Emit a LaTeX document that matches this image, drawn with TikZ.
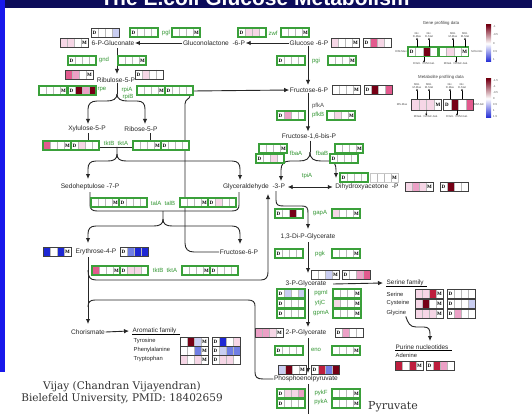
\documentclass[tikz,border=0pt]{standalone}
\usepackage{fontspec}
\setmainfont{Liberation Sans}
\newfontfamily\serifb{Liberation Serif}
\newfontfamily\dejaserif{DejaVu Serif}
\usetikzlibrary{arrows.meta,calc}

\definecolor{wh}{RGB}{255,255,255}
\definecolor{pL}{RGB}{246,214,230}
\definecolor{pM}{RGB}{236,160,198}
\definecolor{pS}{RGB}{226,90,142}
\definecolor{rd}{RGB}{190,30,62}
\definecolor{dr}{RGB}{118,0,22}
\definecolor{bL}{RGB}{202,206,242}
\definecolor{bM}{RGB}{112,126,228}
\definecolor{bS}{RGB}{30,40,212}
\definecolor{frg}{RGB}{58,160,58}
\definecolor{gtxt}{RGB}{50,150,50}
\definecolor{navy}{RGB}{12,12,90}
\definecolor{strip}{RGB}{24,24,235}

\newcommand{\cellrow}[9][]{%
 \begin{scope}[shift={(#3,#4)},#1]
  \fill[#6] (0,0) rectangle (7,9);
  \fill[#7] (7,0) rectangle (14,9);
  \fill[#8] (14,0) rectangle (21,9);
  \fill[#9] (21,0) rectangle (28,9);
  \draw[cellsep] (7,0)--(7,9) (14,0)--(14,9) (21,0)--(21,9);
  \ifx D#5\node[lett] at (3.5,4.6) {D};\fi
  \ifx M#5\node[lett] at (24.5,4.6) {M};\fi
  \draw[#2] (0,0) rectangle (28,9);
 \end{scope}}

\tikzset{
 met/.style={font=\fontsize{6.6}{7}\selectfont, text=black!85, inner sep=0.5pt},
 gn/.style={font=\fontsize{6}{6}\selectfont, text=gtxt, inner sep=0.5pt},
 sm/.style={font=\fontsize{5.8}{6}\selectfont, text=black!85, inner sep=0.5pt, anchor=west},
 fam/.style={font=\fontsize{6.4}{7}\selectfont, text=black!85, inner sep=0.5pt, anchor=west},
 lett/.style={font=\serifb\bfseries\fontsize{5}{5}\selectfont, inner sep=0pt},
 cellsep/.style={draw=gray!55, line width=0.3pt},
 gf/.style={draw=frg, line width=1.1pt},
 bf/.style={draw=black!75, line width=0.9pt},
 lf/.style={draw=gray!45, line width=0.8pt},
 ln/.style={line width=0.9pt, draw=black!85},
 arr/.style={ln, -{Latex[length=5pt,width=4.5pt]}},
 darr/.style={ln, {Latex[length=5pt,width=4.5pt]}-{Latex[length=5pt,width=4.5pt]}},
 tiny/.style={font=\fontsize{2.8}{3}\selectfont, text=black!70, inner sep=0pt, align=center},
 larr/.style={line width=0.4pt, -{Latex[length=2pt,width=2pt]}},
 cred/.style={font=\dejaserif\fontsize{10.5}{11}\selectfont, text=black!80, inner sep=0pt}
}

\begin{document}
\begin{tikzpicture}[x=1pt,y=-1pt]
\useasboundingbox (0,0) rectangle (532,414);
\fill[white] (0,0) rectangle (532,414);

% frame
\begin{scope}
\clip (0,0) rectangle (532,8);
\fill[navy] (0,0) rectangle (532,8);
\node[anchor=base, text=white, font=\bfseries\fontsize{21}{21}\selectfont] (title) at (255,6) {The E.coli Glucose Metabolism};
\end{scope}
\fill[strip] (0,0) rectangle (5,372);

% ---------- metabolites ----------
\node[met] (g6pn) at (113,43) {6-P-Gluconate};
\node[met] (glcl) at (214,43) {Gluconolactone~~-6-P};
\node[met] (g6p) at (309,43) {Glucose -6-P};
\node[met] (f6p) at (309,90) {Fructose-6-P};
\node[met] (fbp) at (309,137) {Fructose-1,6-bis-P};
\node[met] (gap) at (254,187) {Glyceraldehyde~~-3-P};
\node[met] (dhap) at (367,187) {Dihydroxyacetone~~-P};
\node[met] (bpg) at (308,237) {1,3-Di-P-Glycerate};
\node[met] (pg3) at (306,284) {3-P-Glycerate};
\node[met] (pg2) at (306,333) {2-P-Glycerate};
\node[met] (pep) at (306,379) {Phosphoenolpyruvate};
\node[cred, font=\dejaserif\fontsize{11}{11}\selectfont] (pyr) at (393,407) {Pyruvate};
\node[met] (ru5p) at (116,80) {Ribulose-5-P};
\node[met] (xu5p) at (87,129) {Xylulose-5-P};
\node[met] (r5p) at (141,129) {Ribose-5-P};
\node[met] (s7p) at (90,187) {Sedoheptulose -7-P};
\node[met] (e4p) at (96,252) {Erythrose-4-P};
\node[met] (f6pb) at (239,252) {Fructose-6-P};
\node[met] (chor) at (88,332) {Chorismate};

\node[fam] (serfam) at (386,283) {Serine family};
\node[sm] (ser) at (386,294) {Serine};
\node[sm] (cys) at (386,303) {Cysteine};
\node[sm] (gly) at (386,313) {Glycine};
\node[fam] (pur) at (395,347) {Purine nucleotides};
\node[sm] (ade) at (395,355) {Adenine};
\node[fam] (arom) at (132,331) {Aromatic family};
\node[sm] (tyr) at (133,341) {Tyrosine};
\node[sm] (phe) at (133,350) {Phenylalanine};
\node[sm] (trp) at (133,359) {Tryptophan};
\draw[line width=0.5pt] (serfam.south west) -- ([xshift=3pt]serfam.south east);
\draw[line width=0.5pt] (pur.south west) -- ([xshift=3pt]pur.south east);
\draw[line width=0.5pt] (arom.south west) -- ([xshift=3pt]arom.south east);

% ---------- connectors ----------
\draw[arr] (glcl.west) -- (g6pn.east);
\draw[arr] (g6p.west) -- (glcl.east);
\draw[arr] ([xshift=-1pt]g6p.south) -- ([xshift=-1pt,yshift=2pt]f6p.north);
\draw[arr] ([xshift=-1pt]f6p.south) -- ([xshift=-1pt,yshift=2pt]fbp.north);
\coordinate (fk1) at (310,152);
\draw[ln] ([xshift=1pt]fbp.south) -- (fk1);
\draw[arr] (fk1) .. controls (310,159) and (306,161) .. (299,161) -- (290,161) .. controls (284,161) and (281,164) .. (281,170) -- (281,181);
\draw[arr] (fk1) .. controls (310,159) and (314,161) .. (321,161) -- (329,161) .. controls (334,161) and (336,164) .. (336,170) -- (336,178);
\draw[darr] ([xshift=2pt]gap.east) -- ([xshift=-2pt]dhap.west);
\coordinate (gs) at (276,191);
\draw[arr] (gs) -- (276,200) .. controls (276,205) and (278,206) .. (284,206) -- (302,206) .. controls (307,206) and (308,208) .. (308,213) -- (308,229);
\draw[arr] (308,242) -- (308,273);
\draw[arr] ([xshift=6pt]pg3.east) -- ([xshift=-3pt]serfam.west);
\draw[arr] (308,289) -- (308,327);
\draw[arr] (308,338) -- (308,373);
\draw[arr] (308,384) -- (308,419);

\draw[arr] (117,48) -- (117,74);
\coordinate (fk2) at (117,94);
\draw[ln] ([xshift=1pt]ru5p.south) -- (fk2);
\draw[arr] (fk2) .. controls (117,99) and (113,101) .. (107,101) -- (97,101) .. controls (91,101) and (88,104) .. (88,109) -- (88,124);
\draw[arr] (fk2) .. controls (117,99) and (121,101) .. (127,101) -- (137,101) .. controls (143,101) and (145,104) .. (145,109) -- (145,124);

% long connections
\draw[ln] (190,96) .. controls (190,99) and (185,99) .. (185,104) -- (185,243) .. controls (185,249) and (188,252) .. (194,252) -- (f6pb.west);
\draw[arr] (193,91) -- (f6p.west);

% tkt 1
\draw[ln] (88,133) -- (88,147) -- (150,147) -- (150,133);
\coordinate (fk3) at (117,147);
\draw[arr] (fk3) -- (117,154) .. controls (117,159) and (114,161) .. (108,161) -- (96,161) .. controls (90,161) and (88,164) .. (88,169) -- (88,179);
\draw[arr] (117,154) .. controls (117,159) and (120,161) .. (126,161) -- (232,161) .. controls (238,161) and (240,164) .. (240,169) -- (240,180);

% tal
\draw[ln] (90,192) -- (90,205) .. controls (90,209) and (92,211) .. (97,211) -- (232,211) .. controls (237,211) and (239,209) .. (239,205) -- (239,192);
\coordinate (fk4) at (163,211);
\draw[arr] (fk4) -- (163,219) .. controls (163,224) and (160,226) .. (154,226) -- (96,226) .. controls (90,226) and (88,229) .. (88,234) -- (88,243);
\draw[arr] (163,219) .. controls (163,224) and (166,226) .. (172,226) -- (232,226) .. controls (238,226) and (240,229) .. (240,234) -- (240,244);

% tkt 2 and return to GAP
\draw[arr] (88,270) .. controls (88,277) and (90,280) .. (96,280) -- (261,280) .. controls (266,280) and (268,277) .. (268,272) -- (268,194);
\draw[arr] (88,257) -- (88,324);
\draw[ln] (pep.west) -- (263,379) .. controls (257,379) and (255,377) .. (255,372) -- (255,306) .. controls (255,302) and (253,300) .. (248,300) -- (95,300) .. controls (90,300) and (88,302) .. (88,307);
\draw[arr] (chor.east) -- ([xshift=-3pt]arom.west);
\draw[arr] ([xshift=-1pt]gly.south east) .. controls (408,323) and (410,327) .. (416,327) -- (424,327) .. controls (429,327) and (430,330) .. (430,334) -- (430,341);

% ---------- gene labels ----------
\node[gn] (gpgl) at (166,33) {pgl};
\node[gn] (gzwf) at (273,33) {zwf};
\node[gn] (ggnd) at (104,60) {gnd};
\node[gn] (gpgi) at (316,61) {pgi};
\node[gn] (grpe) at (102,90) {rpe};
\node[gn] (grpia) at (127,90) {rpiA};
\node[gn] (grpib) at (128,97) {rpiB};
\node[gn, text=black!70] (gpfka) at (318,106) {pfkA};
\node[gn] (gpfkb) at (318,115) {pfkB};
\node[gn] (gtkt1) at (116,143) {tktB~~tktA};
\node[gn] (gfbaa) at (296,153) {fbaA};
\node[gn] (gfbab) at (322,153) {fbaB};
\node[gn] (gtpi) at (307,176) {tpiA};
\node[gn] (gtal) at (163,203) {talA~~talB};
\node[gn] (ggap) at (320,213) {gapA};
\node[gn] (gpgk) at (320,254) {pgk};
\node[gn] (gtkt2) at (165,270) {tktB~~tktA};
\node[gn] (gpgm) at (321,293) {pgmI};
\node[gn] (gytj) at (320,303) {ytjC};
\node[gn] (ggpm) at (321,313) {gpmA};
\node[gn] (geno) at (316,350) {eno};
\node[gn] (gpykf) at (321,393) {pykF};
\node[gn] (gpyka) at (321,402) {pykA};

% ---------- data boxes ----------
\cellrow{bf}{91}{28}{D}{wh}{wh}{wh}{bL}
\cellrow{bf}{60}{38}{M}{pL}{pL}{wh}{wh}
\cellrow{gf}{130}{28}{D}{wh}{wh}{wh}{wh}
\cellrow{gf}{172}{28}{M}{wh}{wh}{wh}{wh}
\cellrow{gf}{238}{28}{D}{wh}{pL}{pL}{wh}
\cellrow{gf}{281}{28}{M}{wh}{wh}{wh}{wh}
\cellrow{bf}{331}{38}{M}{pL}{wh}{wh}{wh}
\cellrow{bf}{363}{38}{D}{wh}{pS}{pL}{wh}
\cellrow{gf}{68}{56}{D}{wh}{wh}{wh}{wh}
\cellrow{gf}{118}{56}{M}{wh}{wh}{wh}{wh}
\cellrow{gf}{277}{56}{D}{wh}{wh}{wh}{wh}
\cellrow{gf}{328}{56}{M}{wh}{wh}{wh}{wh}
\cellrow{bf}{65}{70}{M}{pS}{pM}{wh}{wh}
\cellrow{bf}{135}{70}{D}{wh}{pL}{wh}{wh}
\cellrow{gf}{39}{86}{M}{wh}{wh}{wh}{wh}
\cellrow{gf}{68}{86}{D}{wh}{dr}{pM}{dr}
\cellrow{gf}{137}{86}{M}{wh}{wh}{wh}{wh}
\cellrow{gf}{165}{86}{D}{wh}{wh}{wh}{wh}
\cellrow{bf}{332}{85}{M}{wh}{wh}{wh}{wh}
\cellrow{bf}{364}{85}{D}{wh}{dr}{wh}{pS}
\cellrow{gf}{277}{111}{D}{wh}{pM}{wh}{wh}
\cellrow{gf}{327}{111}{M}{wh}{pL}{wh}{wh}
\cellrow{gf}{43}{141}{M}{pS}{wh}{wh}{wh}
\cellrow{gf}{71}{141}{D}{wh}{pL}{wh}{wh}
\cellrow{gf}{133}{141}{M}{wh}{wh}{wh}{wh}
\cellrow{gf}{161}{141}{D}{wh}{wh}{wh}{wh}
\cellrow{gf}{259}{144}{M}{wh}{wh}{wh}{wh}
\cellrow{gf}{256}{154}{D}{wh}{wh}{pL}{wh}
\cellrow{gf}{335}{144}{M}{wh}{wh}{wh}{wh}
\cellrow{gf}{330}{154}{D}{wh}{wh}{wh}{wh}
\cellrow{gf}{340}{173}{D}{wh}{wh}{wh}{wh}
\cellrow{lf}{370}{173}{M}{wh}{wh}{wh}{wh}
\cellrow{bf}{405}{182}{M}{pL}{pM}{pL}{wh}
\cellrow{bf}{440}{182}{D}{wh}{dr}{wh}{wh}
\cellrow{gf}{91}{198}{M}{wh}{wh}{wh}{wh}
\cellrow{gf}{119}{198}{D}{wh}{wh}{wh}{wh}
\cellrow{gf}{180}{198}{M}{wh}{wh}{wh}{wh}
\cellrow{gf}{208}{198}{D}{wh}{pL}{wh}{wh}
\cellrow{gf}{275}{209}{D}{wh}{wh}{dr}{wh}
\cellrow{gf}{332}{209}{M}{pL}{wh}{wh}{wh}
\cellrow{bf}{43}{247}{M}{bS}{wh}{bS}{wh}
\cellrow{bf}{120}{247}{D}{wh}{bM}{bS}{bS}
\cellrow{gf}{275}{249}{D}{wh}{wh}{wh}{wh}
\cellrow{gf}{332}{249}{M}{wh}{wh}{wh}{wh}
\cellrow{gf}{92}{266}{M}{pS}{wh}{wh}{wh}
\cellrow{gf}{120}{266}{D}{wh}{pL}{pL}{wh}
\cellrow{gf}{182}{266}{M}{wh}{wh}{wh}{wh}
\cellrow{gf}{210}{266}{D}{wh}{wh}{wh}{wh}
\cellrow{bf}{311}{270}{M}{wh}{wh}{bL}{wh}
\cellrow{bf}{342}{270}{D}{wh}{wh}{pM}{pS}
\cellrow{gf}{277}{289}{D}{wh}{bL}{wh}{bL}
\cellrow{gf}{277}{299}{D}{wh}{wh}{wh}{wh}
\cellrow{gf}{277}{309}{D}{wh}{wh}{wh}{wh}
\cellrow{gf}{333}{289}{M}{wh}{wh}{wh}{wh}
\cellrow{gf}{333}{299}{M}{pL}{wh}{wh}{wh}
\cellrow{gf}{333}{309}{M}{wh}{wh}{wh}{wh}
\cellrow{bf}{415}{289}{M}{pL}{pL}{rd}{wh}
\cellrow{bf}{447}{289}{D}{wh}{wh}{wh}{wh}
\cellrow{bf}{415}{299}{M}{pL}{dr}{wh}{wh}
\cellrow{bf}{447}{299}{D}{wh}{wh}{wh}{bL}
\cellrow{bf}{415}{309}{M}{pL}{pL}{pL}{wh}
\cellrow{bf}{447}{309}{D}{wh}{pM}{wh}{wh}
\cellrow{bf}{255}{328}{M}{pM}{pM}{pL}{wh}
\cellrow{bf}{335}{328}{D}{wh}{pM}{wh}{wh}
\cellrow{gf}{275}{346}{D}{wh}{wh}{wh}{wh}
\cellrow{gf}{332}{346}{M}{wh}{wh}{wh}{wh}
\cellrow{bf}{278}{365}{M}{bL}{dr}{wh}{wh}
\cellrow{bf}{311}{365}{D}{wh}{rd}{bM}{dr}
\cellrow{gf}{277}{389}{D}{wh}{pL}{pL}{pM}
\cellrow{gf}{277}{399}{D}{wh}{wh}{wh}{wh}
\cellrow{gf}{332}{389}{M}{wh}{wh}{wh}{wh}
\cellrow{gf}{332}{399}{M}{wh}{wh}{wh}{wh}
\cellrow{bf}{395}{361}{M}{rd}{wh}{rd}{wh}
\cellrow{bf}{426}{361}{D}{wh}{rd}{pM}{wh}
\cellrow{bf}{180}{337}{M}{wh}{dr}{bL}{wh}
\cellrow{bf}{212}{337}{D}{wh}{bS}{wh}{pL}
\cellrow{bf}{180}{346}{M}{wh}{wh}{bM}{wh}
\cellrow{bf}{212}{346}{D}{wh}{bL}{bM}{bM}
\cellrow{bf}{180}{355}{M}{pL}{wh}{pL}{wh}
\cellrow{bf}{212}{355}{D}{wh}{pL}{pL}{wh}

% ---------- legend ----------
\node[font=\fontsize{4.3}{5}\selectfont, text=black!75, inner sep=0pt] (lgt1) at (441,23) {Gene profiling data};
\node[tiny] (lg1) at (417,35) {Glc.\\D-Max};
\node[tiny] (lg2) at (429,35) {Glc.\\D-Stat};
\node[tiny] (lg3) at (453,35) {MGl.\\M-Max};
\node[tiny] (lg4) at (465,35) {MGl.\\M-Stat};
\node[tiny] (lg5) at (401,52) {D/M-Max};
\node[tiny] (lg6) at (477,52) {M/Gl-Glc};
\node[tiny] (lg7) at (424,64) {D/Glc. / D/M-Gal.};
\node[tiny] (lg8) at (456,64) {M/Gal. / M/Glc-Gal.};
\cellrow[xscale=1.05,yscale=1.1]{gf}{408}{47}{D}{wh}{wh}{dr}{wh}
\cellrow[xscale=1.05,yscale=1.1]{gf}{439}{47}{M}{wh}{pL}{wh}{wh}
\draw[larr] (417,47) -- (lg1.south);
\draw[larr] (429,47) -- (lg2.south);
\draw[larr] (453,47) -- (lg3.south);
\draw[larr] (465,47) -- (lg4.south);
\draw[larr] (424,57) -- (lg7.north);
\draw[larr] (456,57) -- (lg8.north);
\node[font=\fontsize{4.3}{5}\selectfont, text=black!75, inner sep=0pt] (lgt2) at (441,77) {Metabolite profiling data};
\node[tiny] (lm1) at (417,86) {MGl.\\M-Max};
\node[tiny] (lm2) at (429,86) {MGl.\\M-Stat};
\node[tiny] (lm3) at (450,86) {Glc.\\D-Max};
\node[tiny] (lm4) at (462,86) {Glc.\\D-Stat};
\node[tiny] (lm5) at (402,105) {MS-Max};
\node[tiny] (lm6) at (479,105) {D/M-Glc};
\node[tiny] (lm7) at (426,117) {M/Gal. / M/Glc-Gal.};
\node[tiny] (lm8) at (457,117) {D/Glc. / D/M-Gal.};
\cellrow[xscale=1.1,yscale=1.25]{bf}{411}{99}{M}{pL}{pL}{pL}{wh}
\cellrow[xscale=1.1,yscale=1.25]{bf}{443}{99}{D}{wh}{dr}{wh}{pS}
\draw[larr] (417,99) -- (lm1.south);
\draw[larr] (429,99) -- (lm2.south);
\draw[larr] (450,99) -- (lm3.south);
\draw[larr] (462,99) -- (lm4.south);
\draw[larr] (427,110) -- (lm7.north);
\draw[larr] (457,110) -- (lm8.north);

\shade[top color=dr, bottom color=bS, middle color=white] (486,25) rectangle (491,62);
\shade[top color=dr, bottom color=bS, middle color=white] (486,79) rectangle (491,118);
\foreach \t/\yy [count=\i] in {-1/27,-0.5/35,0/44,0.5/52,1/60}
  \node[tiny, anchor=west] (cb1\i) at (493,\yy) {\t};
\foreach \t/\yy [count=\i] in {-1.5/81,-1/87,-0.5/93,0/99,0.5/105,1/111,1.5/117}
  \node[tiny, anchor=west] (cb2\i) at (493,\yy) {\t};

% ---------- credit ----------
\node[cred] (cr1) at (122,387) {Vijay (Chandran Vijayendran)};
\node[cred] (cr2) at (122,399) {Bielefeld University, PMID: 18402659};
\end{tikzpicture}
\end{document}
